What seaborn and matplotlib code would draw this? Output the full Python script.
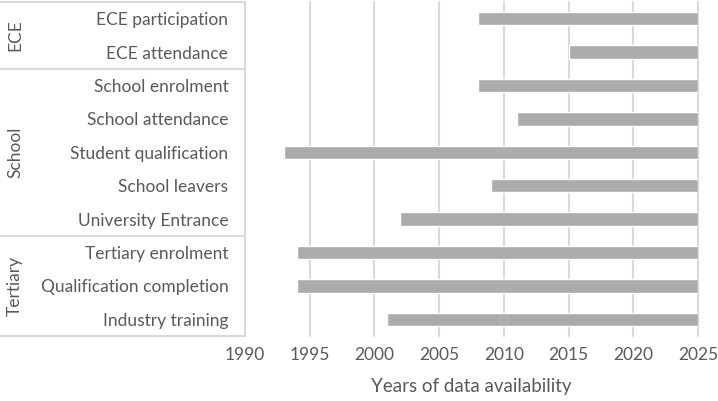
import numpy as np
import pandas as pd
import seaborn as sns
import matplotlib.pyplot as plt

# data
measures = ['ECE participation', 'ECE attendance', 'School enrolment', 'School attendance',
            'Student qualification', 'School leavers', 'University Entrance',
            'Tertiary enrolment', 'Qualification completion', 'Industry training']
start_year = [2008, 2015, 2008, 2011, 1993, 2009, 2002, 1994, 1994, 2001]
end_year = [2025] * 10
groups = ['ECE', 'School', 'Tertiary']
group_sizes = [2, 5, 3]

df = pd.DataFrame({'measure': measures, 'start': start_year, 'end': end_year})
df['span'] = df['end'] - df['start']

sns.set_theme(style='white')
plt.rcParams['font.family'] = ['Lato', 'DejaVu Sans']
text_col = '#595959'
grid_col = '#d9d9d9'

fig = plt.figure(figsize=(7.18, 4.01), dpi=100)
ax = fig.add_axes([245 / 718, 1 - 336 / 401, 453 / 718, 334 / 401])

sns.barplot(data=df, x='span', y='measure', order=measures, color='#ababab',
            saturation=1, width=0.4, errorbar=None, left=df['start'].values, ax=ax)

ax.set_xlim(1990, 2025)
ax.set_ylim(9.5, -0.5)
ax.set_xticks(range(1990, 2026, 5))
ax.set_axisbelow(True)
ax.grid(axis='x', color=grid_col, linewidth=1.5)
for gl in ax.get_xgridlines():
    gl.set_clip_on(False)
sns.despine(ax=ax, left=True, bottom=True)

ax.tick_params(axis='y', length=0, pad=12, labelsize=12.5, labelcolor=text_col)
ax.tick_params(axis='x', length=0, pad=8, labelsize=12.5, labelcolor=text_col)
ax.set_ylabel('')
ax.set_xlabel('Years of data availability', fontsize=13.5, color=text_col, labelpad=11)

# group box on the left
box_left = -245 / 453
ytr = ax.get_yaxis_transform()
bounds = [-0.5] + list(np.cumsum(group_sizes) - 0.5)
for b in bounds:
    ax.plot([box_left, 0], [b, b], transform=ytr, color=grid_col, lw=1.5, clip_on=False)
for g, lo, hi in zip(groups, bounds[:-1], bounds[1:]):
    ax.text(box_left + 15 / 453, (lo + hi) / 2, g, transform=ytr, rotation=90,
            ha='center', va='center', fontsize=12.5, color=text_col)

fig.savefig('out.png', dpi=100)
